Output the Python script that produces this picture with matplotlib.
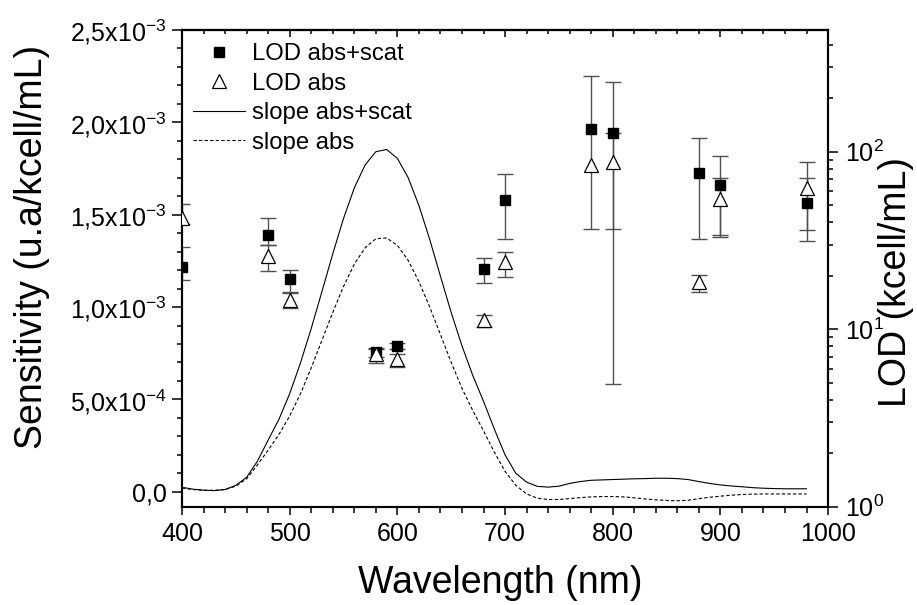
import numpy as np
import matplotlib
matplotlib.use("Agg")
import matplotlib.pyplot as plt
from matplotlib.lines import Line2D
from matplotlib.ticker import FixedLocator, MultipleLocator, LogLocator, NullFormatter

plt.rcParams["font.family"] = ["Liberation Sans", "DejaVu Sans"]
plt.rcParams["mathtext.fontset"] = "custom"
plt.rcParams["mathtext.rm"] = "Liberation Sans"
plt.rcParams["mathtext.default"] = "regular"

# 灵敏度曲线 (u.a/kcell/mL)，每 10 nm 读一个点
wl_curve = np.arange(400, 990, 10)
slope_abs_scat = np.array([
    0.024, 0.014, 0.008, 0.006, 0.012, 0.035, 0.078, 0.165, 0.280, 0.392,
    0.531, 0.697, 0.884, 1.085, 1.288, 1.480, 1.645, 1.769, 1.841, 1.853,
    1.805, 1.701, 1.550, 1.367, 1.167, 0.970, 0.790, 0.630, 0.490, 0.340,
    0.200, 0.100, 0.052, 0.029, 0.025, 0.030, 0.045, 0.055, 0.062, 0.064,
    0.066, 0.068, 0.070, 0.071, 0.073, 0.073, 0.071, 0.066, 0.055, 0.045,
    0.037, 0.031, 0.027, 0.022, 0.019, 0.017, 0.016, 0.016, 0.016]) * 1e-3
slope_abs = np.array([
    0.020, 0.012, 0.008, 0.008, 0.012, 0.030, 0.070, 0.145, 0.225, 0.310,
    0.410, 0.530, 0.671, 0.821, 0.971, 1.112, 1.232, 1.321, 1.370, 1.374,
    1.334, 1.253, 1.138, 1.001, 0.851, 0.700, 0.560, 0.440, 0.330, 0.215,
    0.110, 0.035, -0.012, -0.035, -0.042, -0.042, -0.037, -0.032, -0.028, -0.026,
    -0.026, -0.028, -0.033, -0.039, -0.044, -0.047, -0.049, -0.046, -0.038, -0.030,
    -0.024, -0.019, -0.015, -0.013, -0.012, -0.012, -0.012, -0.012, -0.012]) * 1e-3

# LOD (kcell/mL)，误差棒给出上下端
lod_x = [400, 480, 500, 580, 600, 680, 700, 780, 800, 880, 900, 980]
lod_scat = [22.3, 33.9, 19.1, 7.47, 8.07, 21.7, 53.5, 133.7, 128.0, 76.2, 64.7, 51.6]
lod_scat_lo = [18.9, 29.8, 16.2, 6.97, 7.7, 18.1, 32.1, 36.7, 4.91, 32.4, 33.2, 31.5]
lod_scat_hi = [29.2, 42.5, 21.6, 7.84, 8.4, 25.3, 74.9, 267.0, 247.0, 120.0, 94.9, 87.1]
lod_abs = [42.2, 25.7, 14.6, 7.25, 6.77, 11.3, 24.0, 84.2, 87.9, 18.5, 53.9, 62.2]
lod_abs_lo = [39.1, 21.3, 13.1, 6.48, 6.15, 10.3, 19.8, np.nan, 36.7, 16.1, 34.1, 36.2]
lod_abs_hi = [50.7, 29.8, 15.9, 7.73, 7.25, 12.0, 27.1, np.nan, 128.0, 20.2, 71.4, 71.4]

left_ticks = [0, 0.5e-3, 1.0e-3, 1.5e-3, 2.0e-3, 2.5e-3]
left_ticklabels = ["0,0", r"5,0x10$^{-4}$", r"1,0x10$^{-3}$", r"1,5x10$^{-3}$",
                   r"2,0x10$^{-3}$", r"2,5x10$^{-3}$"]

fig = plt.figure(figsize=(9.17, 6.05), dpi=100)
ax = fig.add_axes([0.1985, 0.1625, 0.7045, 0.7879])

ax.plot(wl_curve, slope_abs_scat, color="black", lw=0.8, label="slope abs+scat")
ax.plot(wl_curve, slope_abs, color="black", lw=0.8, linestyle=(0, (3, 2)), label="slope abs")
ax.set_xlim(400, 1000)
ax.set_ylim(-8.1e-5, 2.5e-3)

ax.yaxis.set_major_locator(FixedLocator(left_ticks))
ax.set_yticklabels(left_ticklabels)
ax.yaxis.set_minor_locator(MultipleLocator(1e-4))
ax.xaxis.set_major_locator(MultipleLocator(100))
ax.xaxis.set_minor_locator(MultipleLocator(20))

ax.tick_params(axis="both", which="both", direction="out", width=1.1, labelsize=18)
ax.tick_params(axis="x", which="major", length=6, pad=5)
ax.tick_params(axis="x", which="minor", length=4)
ax.tick_params(axis="y", which="major", length=7, pad=4)
ax.tick_params(axis="y", which="minor", length=3.6)
ax.tick_params(top=False, right=False)
for sp in ax.spines.values():
    sp.set_linewidth(1.5)

# 顶部刻度朝内
top = ax.secondary_xaxis("top")
top.xaxis.set_major_locator(MultipleLocator(100))
top.xaxis.set_minor_locator(MultipleLocator(20))
top.tick_params(which="both", direction="in", width=1.1, labeltop=False)
top.tick_params(which="major", length=5)
top.tick_params(which="minor", length=3)
top.spines["top"].set_linewidth(1.5)

ax.set_xlabel("Wavelength (nm)", fontsize=27)
ax.xaxis.set_label_coords(0.492, -0.122)
ax.set_ylabel("Sensitivity (u.a/kcell/mL)", fontsize=27)
ax.yaxis.set_label_coords(-0.204, 0.545)

# 右轴：LOD 对数坐标
ax2 = ax.twinx()
ax2.set_yscale("log")
ax2.set_ylim(1, 485)

sc = np.array(lod_scat)
ab = np.array(lod_abs)
eb1 = ax2.errorbar(lod_x, sc, yerr=[sc - np.array(lod_scat_lo), np.array(lod_scat_hi) - sc],
                   fmt="none", ecolor="#505050", elinewidth=1, capsize=5.5, capthick=1, zorder=2)
eb2 = ax2.errorbar(lod_x, ab, yerr=[ab - np.array(lod_abs_lo), np.array(lod_abs_hi) - ab],
                   fmt="none", ecolor="#505050", elinewidth=1, capsize=5.5, capthick=1, zorder=2)
m1, = ax2.plot(lod_x, sc, linestyle="none", marker="s", markersize=7.4, color="black", zorder=3)
m2, = ax2.plot(lod_x, ab, linestyle="none", marker="^", markersize=10, markerfacecolor="white",
               markeredgecolor="black", markeredgewidth=0.9, zorder=4)
# 边界上的点只显示一半
for art in [m1, m2] + list(eb1.lines[1]) + list(eb1.lines[2]) + list(eb2.lines[1]) + list(eb2.lines[2]):
    art.set_clip_path(ax2.patch)

ax2.yaxis.set_major_locator(LogLocator(base=10))
ax2.yaxis.set_minor_locator(LogLocator(base=10, subs=np.arange(2, 10)))
ax2.yaxis.set_minor_formatter(NullFormatter())
ax2.tick_params(axis="y", which="both", direction="out", width=1.1, labelsize=18)
ax2.tick_params(axis="y", which="major", length=7, pad=5)
ax2.tick_params(axis="y", which="minor", length=3.6)
for sp in ax2.spines.values():
    sp.set_linewidth(1.5)
ax2.set_ylabel("LOD (kcell/mL)", fontsize=27)
ax2.yaxis.set_label_coords(1.077, 0.471)

handles = [
    Line2D([], [], linestyle="none", marker="s", markersize=7.4, color="black"),
    Line2D([], [], linestyle="none", marker="^", markersize=10, markerfacecolor="white",
           markeredgecolor="black", markeredgewidth=0.9),
    Line2D([], [], color="black", lw=0.8),
    Line2D([], [], color="black", lw=0.8, linestyle=(0, (3, 2))),
]
labels = ["LOD abs+scat", "LOD abs", "slope abs+scat", "slope abs"]
ax2.legend(handles, labels, loc="upper left", bbox_to_anchor=(0.017, 0.972),
           frameon=False, fontsize=17.2, handlelength=2.18, handletextpad=0.3,
           labelspacing=0.31, borderpad=0, borderaxespad=0, numpoints=1)

fig.savefig("out.png", dpi=100)
